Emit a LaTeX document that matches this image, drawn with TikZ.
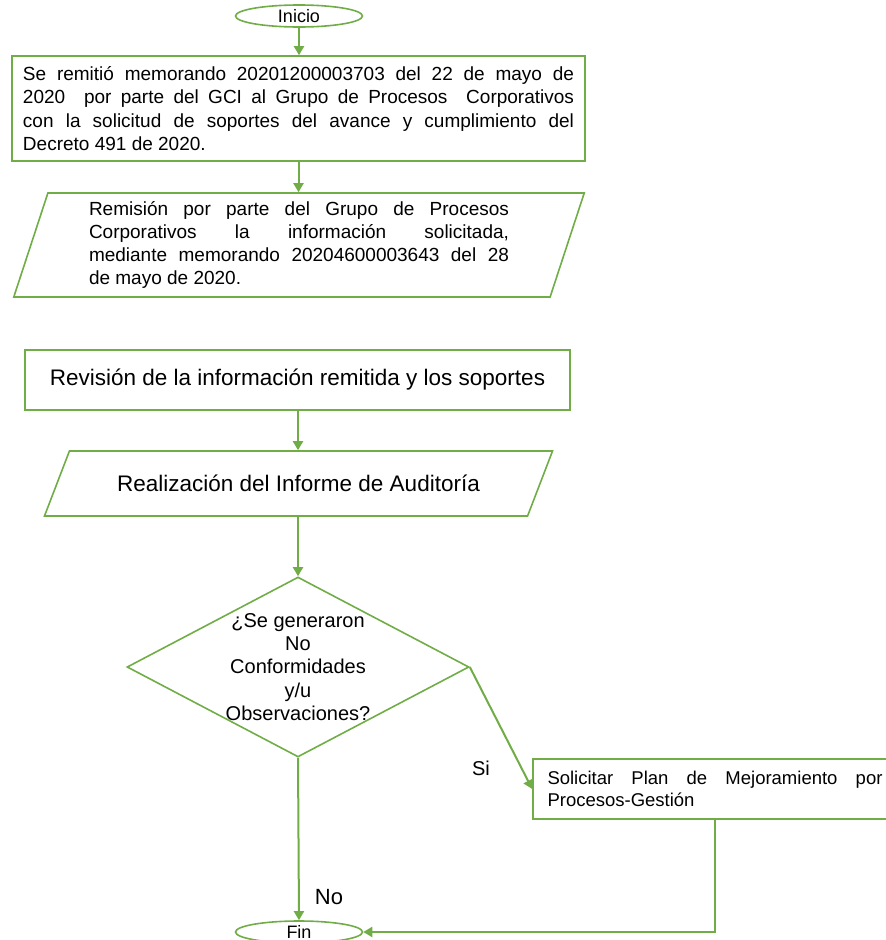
\documentclass[tikz,border=0pt]{standalone}
\usepackage{fontspec}
\setmainfont{Liberation Sans}
\usetikzlibrary{shapes.geometric,arrows.meta}
\definecolor{verde}{HTML}{70AD47}

\begin{document}
\begin{tikzpicture}[x=1pt,y=-1pt,
	caja/.style={draw=verde,line width=1.6pt,rectangle,inner sep=0pt},
	datos/.style={draw=verde,line width=1.6pt,trapezium,trapezium stretches,trapezium left angle=72,trapezium right angle=108,inner sep=0pt},
	terminal/.style={draw=verde,line width=1.6pt,ellipse,inner sep=-2pt,minimum width=127pt,minimum height=22pt,font=\fontsize{18}{20}\selectfont},
	decision/.style={draw=verde,line width=1.6pt,diamond,inner sep=-4pt,shape aspect=1.9,minimum width=342pt,minimum height=180pt,align=center,font=\fontsize{20}{23.3}\selectfont},
	flecha/.style={draw=verde,line width=2pt,-{Triangle[length=9pt,width=10pt]}},
	txt/.style={font=\fontsize{19}{23.3}\selectfont},
	txtgrande/.style={font=\fontsize{22.5}{26}\selectfont}]
	\useasboundingbox (0,0) rectangle (886,940);
	\node[terminal] (ini) at (299,16) {Inicio};
	\node[caja,txt,minimum width=573pt,minimum height=105pt,text width=551pt,align=justify] (memo) at (298.5,108.5) {Se remitió memorando 20201200003703 del 22 de mayo de\linebreak 2020\ \ por parte del GCI al Grupo de Procesos\ \ Corporativos\linebreak con la solicitud de soportes del avance y cumplimiento del\linebreak Decreto 491 de 2020.};
	\node[datos,txt,minimum width=572pt,minimum height=104pt,text width=420pt,align=justify] (remision) at (299,245) {Remisión por parte del Grupo de Procesos\linebreak Corporativos la información solicitada,\linebreak mediante memorando 20204600003643 del 28\linebreak de mayo de 2020.};
	\node[caja,txtgrande,minimum width=545pt,minimum height=60pt] (revision) at (297.5,380) {Revisión de la información remitida y los soportes};
	\node[datos,txtgrande,inner ysep=22pt,minimum width=511pt,minimum height=65pt] (informe) at (298.5,483.5) {Realización del Informe de Auditoría};
	\node[decision] (nc) at (298,667) {¿Se generaron\\No\\Conformidades\\y/u\\Observaciones?};
	\node[caja,minimum width=364pt,minimum height=60pt,text width=335pt,align=justify,font=\fontsize{18.5}{21.7}\selectfont] (plan) at (715,789) {Solicitar Plan de Mejoramiento por\linebreak Procesos-Gestión};
	\node[terminal] (fin) at (299,932) {Fin};
	\node[font=\fontsize{20}{24}\selectfont] (si) at (481,768) {Si};
	\node[font=\fontsize{22}{26}\selectfont] (no) at (329,897) {No};
	\draw[flecha] (ini.south) -- (ini.south |- memo.north);
	\draw[flecha] (memo.south) -- (memo.south |- remision.north);
	\draw[flecha] (nc.north |- revision.south) -- (nc.north |- informe.north);
	\draw[flecha] (nc.north |- informe.south) -- (nc.north);
	\draw[flecha] (nc.east) -- (plan.west);
	\draw[flecha] (nc.south) -- (fin.north);
	\draw[flecha] (plan.south) |- (fin.east);
\end{tikzpicture}
\end{document}
